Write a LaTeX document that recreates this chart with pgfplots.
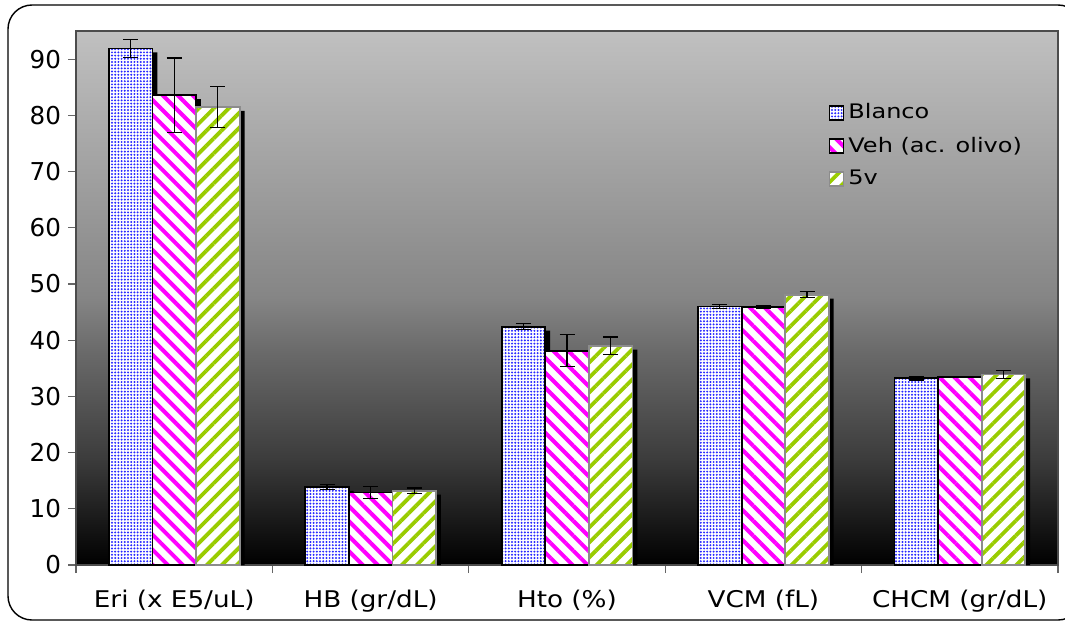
\documentclass[border=0pt]{standalone}
\usepackage{fontspec}
\setmainfont{DejaVu Sans}
\newfontfamily\legfont{DejaVu Sans}[FakeStretch=1.2]
\newfontfamily\xlabfont{DejaVu Sans}[FakeStretch=1.14]
\usepackage{pgfplots}
\pgfplotsset{compat=1.18}
\usepackage{pgfplotstable}
\usetikzlibrary{patterns.meta}

\definecolor{dotblue}{RGB}{40,40,255}
\definecolor{mag}{RGB}{255,0,255}
\definecolor{lime}{RGB}{153,204,0}
\definecolor{g60}{RGB}{60,60,60}
\definecolor{g106}{RGB}{106,106,106}
\definecolor{g133}{RGB}{133,133,133}
\definecolor{g192}{RGB}{192,192,192}
\pgfdeclareverticalshading{bgshade}{100bp}{color(0bp)=(black); color(25bp)=(black); color(35bp)=(g60); color(45bp)=(g106); color(50bp)=(g133); color(75bp)=(g192); color(100bp)=(g192)}

\pgfplotsset{mylegend/.style={legend image code/.code={\draw[##1] (0pt,-3.5pt) rectangle (7pt,3.5pt);}}}

% x: category index; v: mean; e: error
\pgfplotstableread{
x v e
0 91.9 1.6
1 13.9 0.45
2 42.4 0.55
3 46.0 0.4
4 33.2 0.3
}\blanco
\pgfplotstableread{
x v e
0 83.6 6.6
1 12.9 1.0
2 38.1 2.85
3 45.9 0.2
4 33.5 0.1
}\veh
\pgfplotstableread{
x v e
0 81.5 3.6
1 13.2 0.5
2 39.0 1.55
3 48.1 0.55
4 33.9 0.7
}\cinco

\begin{document}
\begin{tikzpicture}
\begin{axis}[
  at={(0,0)}, anchor=south west,
  scale only axis, width=491pt, height=267pt,
  xmin=-0.5, xmax=4.5, ymin=0, ymax=95,
  ybar, bar width=0.222,
  ytick={0,10,...,90},
  xtick={-0.5,0.5,...,4.5}, xticklabels={},
  extra x ticks={0,1,2,3,4},
  extra x tick labels={Eri (x E5/uL),HB (gr/dL),Hto (\%),VCM (fL),CHCM (gr/dL)},
  extra x tick style={major tick length=0pt},
  xticklabel style={yshift=-9pt, font=\xlabfont\fontsize{11.5}{14}\selectfont},
  yticklabel style={font=\fontsize{12.3}{14}\selectfont},
  tick pos=left,
  tick align=outside, major tick length=4pt,
  tick style={black!60, line width=0.6pt},
  axis line style={black!70, line width=0.6pt},
  axis background/.style={shade, shading=bgshade},
  ticklabel style={text=black},
  /pgf/number format/assume math mode=true,
  legend style={draw=none, fill=none, at={(0.766,0.872)}, anchor=north west,
    font=\legfont\fontsize{10}{12}\selectfont, inner sep=0pt, row sep=3.5pt},
  legend cell align=left,
  error bars/error bar style={black, line width=0.6pt},
  error bars/error mark options={rotate=90, mark size=3.75pt, line width=0.6pt, black},
]
% drop shadows of the bars
\addplot[forget plot, fill=black, draw=none, bar shift=-0.197] table[x=x, y expr=\thisrow{v}-0.7] {\blanco};
\addplot[forget plot, fill=black, draw=none, bar shift=0.025] table[x=x, y expr=\thisrow{v}-0.7] {\veh};
\addplot[forget plot, fill=black, draw=none, bar shift=0.247] table[x=x, y expr=\thisrow{v}-0.7] {\cinco};
% bars
\addplot[preaction={fill=white}, pattern={Dots[distance=1.6pt, radius=0.55pt]}, pattern color=dotblue,
  draw=black, line width=0.9pt, bar shift=-0.222, mylegend,
  error bars/.cd, y dir=both, y explicit]
  table[x=x, y=v, y error=e] {\blanco};
\addplot[preaction={fill=white}, pattern={Lines[angle=-45, distance=5.3pt, line width=2pt]}, pattern color=mag,
  draw=black, line width=0.9pt, bar shift=0, mylegend,
  error bars/.cd, y dir=both, y explicit]
  table[x=x, y=v, y error=e] {\veh};
\addplot[preaction={fill=white}, pattern={Lines[angle=45, distance=5.3pt, line width=1.9pt]}, pattern color=lime,
  draw=black!45, line width=0.9pt, bar shift=0.222, mylegend,
  error bars/.cd, y dir=both, y explicit]
  table[x=x, y=v, y error=e] {\cinco};
\legend{Blanco,Veh (ac. olivo),5v}
\end{axis}
\draw[line width=0.7pt, rounded corners=12pt] (-34pt,-27.5pt) rectangle (503pt,280pt);
\pgfresetboundingbox
\path (-38pt,-28.5pt) rectangle (494.5pt,282.5pt);
\end{tikzpicture}
\end{document}
